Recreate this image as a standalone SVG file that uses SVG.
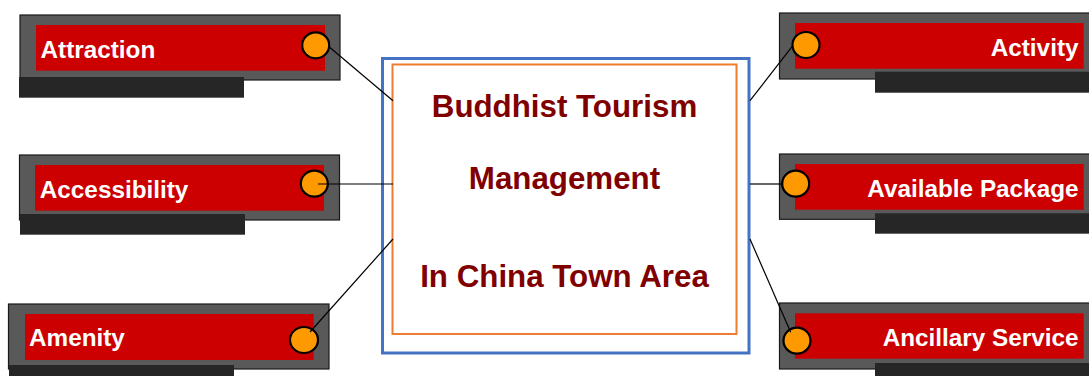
<svg xmlns="http://www.w3.org/2000/svg" width="1089" height="376" viewBox="0 0 1089 376">
<style>
.frame{fill:#595959;stroke:#1a1a1a;stroke-width:1.2}
.red{fill:#CC0000}
.bar{fill:#262626}
.dot{fill:#FF9900;stroke:#000;stroke-width:2.2}
.lbl{font-family:"Liberation Sans",Arial,sans-serif;font-weight:bold;font-size:24.3px;fill:#fff}
.ttl{font-family:"Liberation Sans",Arial,sans-serif;font-weight:bold;font-size:31.3px;fill:#800000;text-anchor:middle}
.conn{stroke:#000;stroke-width:1.2;fill:none}
</style>
<rect width="1089" height="376" fill="#fff"/>
<g id="center">
<rect x="382.5" y="58.5" width="366.5" height="294.5" fill="#fff" stroke="#4472C4" stroke-width="3"/>
<rect x="392.5" y="64.5" width="344" height="269.5" fill="#fff" stroke="#ED7D31" stroke-width="2"/>
<text class="ttl" x="564.5" y="117.3">Buddhist Tourism</text>
<text class="ttl" x="564.5" y="189">Management</text>
<text class="ttl" x="564.5" y="287.3">In China Town Area</text>
</g>
<g id="attraction">
<rect class="frame" x="20" y="15" width="320" height="65"/>
<rect class="red" x="36" y="25" width="289" height="45.7"/>
<rect class="bar" x="19" y="77" width="225" height="20.7"/>
<text class="lbl" x="40.5" y="58.3">Attraction</text>
<ellipse class="dot" cx="315.7" cy="45.3" rx="13.5" ry="13"/>
</g>
<g id="accessibility">
<rect class="frame" x="19.5" y="155" width="320" height="65"/>
<rect class="red" x="35" y="165" width="289" height="45.7"/>
<rect class="bar" x="20" y="214" width="225" height="20.7"/>
<text class="lbl" x="39.8" y="198.3">Accessibility</text>
<ellipse class="dot" cx="314.3" cy="183.7" rx="13.5" ry="13"/>
</g>
<g id="amenity">
<rect class="frame" x="8.5" y="304" width="320.5" height="65"/>
<rect class="red" x="25" y="314" width="288.7" height="46"/>
<rect class="bar" x="9" y="365" width="225" height="12"/>
<text class="lbl" x="29" y="345.7">Amenity</text>
<ellipse class="dot" cx="304" cy="340" rx="14" ry="13"/>
</g>
<g id="activity">
<rect class="frame" x="779.5" y="13" width="322" height="66"/>
<rect class="red" x="795" y="23" width="288.7" height="45.7"/>
<rect class="bar" x="875" y="71.7" width="220" height="21"/>
<text class="lbl" x="1078.5" y="55.7" text-anchor="end">Activity</text>
<ellipse class="dot" cx="806" cy="45" rx="13.5" ry="13"/>
</g>
<g id="available-package">
<rect class="frame" x="779.5" y="154" width="322" height="65.3"/>
<rect class="red" x="795" y="164" width="288.7" height="45.7"/>
<rect class="bar" x="875" y="213.3" width="220" height="20.4"/>
<text class="lbl" x="1078.5" y="196.7" text-anchor="end">Available Package</text>
<ellipse class="dot" cx="795.7" cy="183.7" rx="13.5" ry="13"/>
</g>
<g id="ancillary-service">
<rect class="frame" x="779.5" y="303" width="322" height="66"/>
<rect class="red" x="795" y="313.3" width="288.7" height="45.4"/>
<rect class="bar" x="875" y="363" width="220" height="14"/>
<text class="lbl" x="1078.5" y="345.7" text-anchor="end">Ancillary Service</text>
<ellipse class="dot" cx="797" cy="340.7" rx="13.5" ry="13"/>
</g>
<g id="connectors">
<line class="conn" x1="329" y1="46.7" x2="393" y2="100.7"/>
<line class="conn" x1="318" y1="184" x2="393" y2="184"/>
<line class="conn" x1="310" y1="332" x2="393" y2="239"/>
<line class="conn" x1="750" y1="100.7" x2="792" y2="46.7"/>
<line class="conn" x1="750" y1="184" x2="782" y2="184"/>
<line class="conn" x1="750" y1="239" x2="790.7" y2="332.3"/>
</g>
</svg>
